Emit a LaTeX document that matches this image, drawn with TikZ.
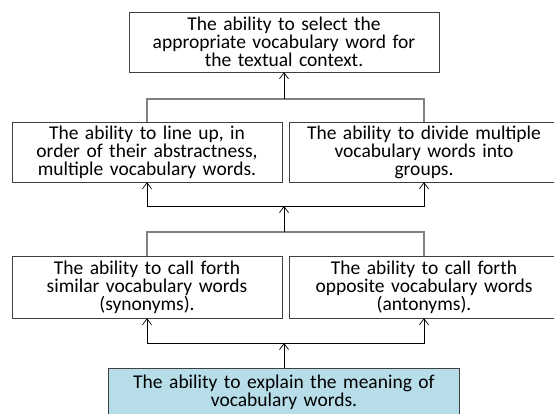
\documentclass[tikz,border=0pt]{standalone}
\usepackage{fontspec}
\setmainfont{Carlito}
\usetikzlibrary{positioning}
\usetikzlibrary{arrows.meta}
\definecolor{boxblue}{RGB}{183,221,232}
\tikzset{
  ability/.style={draw=black!75, fill=white, align=center, inner sep=0pt,
    minimum height=60pt, text width=#1, minimum width=#1}, % Kaestchen
  basis/.style={ability=351pt, fill=boxblue, minimum height=48pt}, % Grundfaehigkeit
  Linie/.style={draw=black!50, line width=1.1pt},
  Pfeil/.style={draw=black, line width=.7pt, ->} % Pfeile nach oben
}
\begin{document}
\begin{tikzpicture}[x=1pt, y=-1pt,
font=\fontsize{19.5}{18}\selectfont,
>={Straight Barb[length=6pt, width=9pt]} % Pfeilspitzen
]
\useasboundingbox (0,0) rectangle (554,414);

%Kaestchen
\node[ability=310pt] (select) at (284,42)
  {The ability to select the\\ appropriate vocabulary word for\\ the textual context.};
\node[ability=270pt] (lineup) at (147,152)
  {The ability to line up, in\\ order of their abstractness,\\ multiple vocabulary words.};
\node[ability=270pt] (divide) at (424,152)
  {The ability to divide multiple\\ vocabulary words into\\ groups.};
\node[ability=270pt, minimum height=62pt] (similar) at (147,287)
  {The ability to call forth\\ similar vocabulary words\\ (synonyms).};
\node[ability=270pt, minimum height=62pt] (opposite) at (424,287)
  {The ability to call forth\\ opposite vocabulary words\\ (antonyms).};
\node[basis] (explain) at (284,392)
  {The ability to explain the meaning of\\ vocabulary words.};

%Knotenpunkte
\coordinate (J1) at (284,99);
\coordinate (J2) at (284,206);
\coordinate (J3) at (284,232);
\coordinate (J4) at (284,343);

%Leiterbahnen
\draw[Linie] (lineup.north) |- (J1) -| (divide.north);
\draw[Pfeil] (J1) -- (select.south);

\draw[Linie] (similar.north) |- (J3) -| (opposite.north);
\draw[Pfeil] (J3) -- (J2);
\draw[Pfeil] (J2) -| (lineup.south);
\draw[Pfeil] (J2) -| (divide.south);

\draw[Pfeil] (explain.north) -- (J4);
\draw[Pfeil] (J4) -| (similar.south);
\draw[Pfeil] (J4) -| (opposite.south);
\end{tikzpicture}
\end{document}
